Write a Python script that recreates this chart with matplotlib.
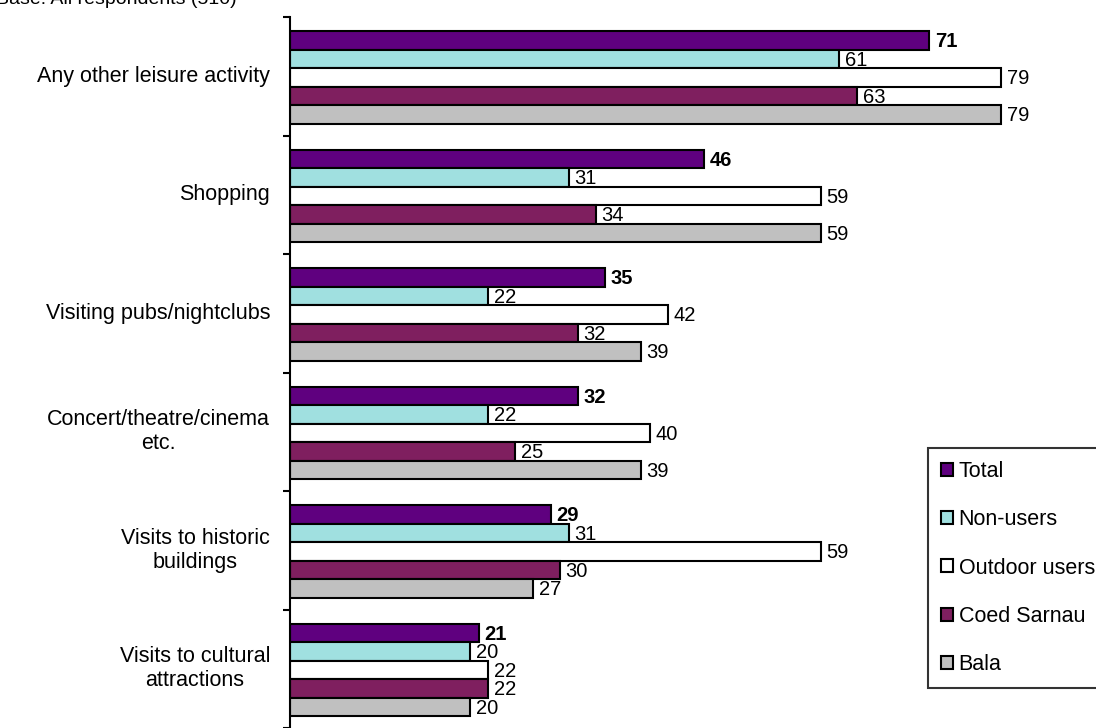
import numpy as np
import matplotlib.pyplot as plt

# categories, top to bottom
categories = ['Any other leisure activity', 'Shopping', 'Visiting pubs/nightclubs',
              'Concert/theatre/cinema\netc.', 'Visits to historic\nbuildings',
              'Visits to cultural\nattractions']

series = ['Total', 'Non-users', 'Outdoor users', 'Coed Sarnau', 'Bala']
total = [71, 46, 35, 32, 29, 21]
non_users = [61, 31, 22, 22, 31, 20]
outdoor_users = [79, 59, 42, 40, 59, 22]
coed_sarnau = [63, 34, 32, 25, 30, 22]
bala = [79, 59, 39, 39, 27, 20]

values = [total, non_users, outdoor_users, coed_sarnau, bala]
colors = ['#5F007F', '#A0E0E0', '#FFFFFF', '#7F1F5F', '#C0C0C0']

plt.rcParams['font.family'] = ['Liberation Sans', 'DejaVu Sans']

fig = plt.figure(figsize=(10.96, 7.28), dpi=100)
ax = fig.add_axes([290/1096, 0, 806/1096, 711/728])

bar_h = 0.156
offset = 0.12
idx = np.arange(len(categories))

for s, (name, vals, col) in enumerate(zip(series, values, colors)):
    ypos = idx + offset + bar_h * s + bar_h / 2
    ax.barh(ypos, vals, height=bar_h, color=col, edgecolor='black',
            linewidth=1.5, label=name)
    for y, v in zip(ypos, vals):
        ax.text(v + 0.6, y + 0.01, str(v), va='center', ha='left', fontsize=14.5,
                fontweight='bold' if s == 0 else 'normal')

ax.set_xlim(0, 89.5)
ax.set_ylim(len(categories), 0)

# tick marks at group boundaries, no labels
ax.set_yticks(np.arange(len(categories) + 1))
ax.set_yticklabels([])
ax.tick_params(axis='y', direction='out', length=5, width=1.5, color='black')
ax.set_xticks([])

for i, c in enumerate(categories):
    ax.text(-20/806, i + 0.5, c, transform=ax.get_yaxis_transform(),
            ha='right', va='center', multialignment='center', fontsize=15.5)

for sp in ['top', 'right', 'bottom']:
    ax.spines[sp].set_visible(False)
ax.spines['left'].set_linewidth(1.5)

leg = fig.legend(loc='upper left', bbox_to_anchor=(928/1096, 1 - 448/728),
                 fontsize=15.5, frameon=True, fancybox=False, edgecolor='black',
                 handlelength=0.55, handleheight=0.55, handletextpad=0.25,
                 labelspacing=1.26, borderpad=0.62, borderaxespad=0)
leg.get_frame().set_linewidth(1.5)

fig.text(-0.004, 1.0, 'Base: All respondents (510)', ha='left', va='center',
         fontsize=14)

fig.savefig('out.png', dpi=100)
